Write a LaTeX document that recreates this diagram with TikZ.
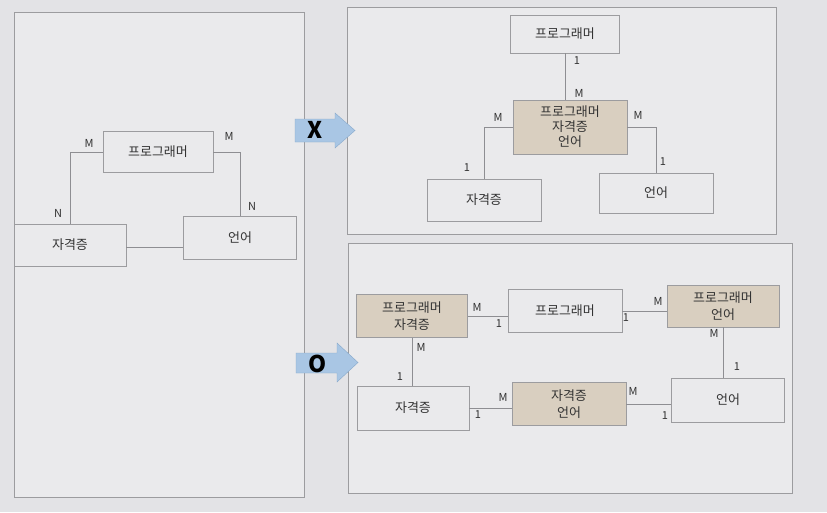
\documentclass[tikz,border=0pt]{standalone}
\usepackage{fontspec}
\setmainfont{Noto Sans CJK KR}

\definecolor{page}{HTML}{E3E3E6}
\definecolor{panel}{HTML}{EAEAEC}
\definecolor{beige}{HTML}{D9CFC0}
\definecolor{frame}{HTML}{9C9C9F}
\definecolor{wire}{HTML}{8E8E92}
\definecolor{arrowfill}{HTML}{A9C6E4}
\definecolor{arrowedge}{HTML}{86A8CB}

\begin{document}
\begin{tikzpicture}[x=1pt,y=-1pt,draw=frame]
    \tikzstyle{entity}=[rectangle,draw=frame,fill=panel,text=black!80,align=center,inner sep=0pt,
        font=\fontsize{13}{16.5}\selectfont]
    \tikzstyle{relation}=[entity,fill=beige]
    \tikzstyle{card}=[font=\fontsize{11}{12}\selectfont,text=black!80,inner sep=0pt]
    \tikzstyle{wire}=[draw=wire,line width=0.8pt]
    \tikzstyle{bigmark}=[font=\fontsize{23}{23}\selectfont\bfseries,text=black,inner sep=0pt]

    % Draw the page and the three panels
    \fill[page] (0,0) rectangle (827,512);
    \useasboundingbox (0,0) rectangle (827,512);
    \draw[fill=panel] (14,12) rectangle (304,497);
    \draw[fill=panel] (347,7) rectangle (776,234);
    \draw[fill=panel] (348,243) rectangle (792,493);

    % Draw the arrows between the panels
    \draw[arrowedge,fill=arrowfill] (295,119) -- (335,119) -- (335,113) -- (355,130.5)
        -- (335,148) -- (335,142) -- (295,142) -- cycle;
    \draw[arrowedge,fill=arrowfill] (296,353) -- (337,353) -- (337,343) -- (358,362.5)
        -- (337,382) -- (337,373) -- (296,373) -- cycle;
    \node[bigmark] (wrong) at (315,130) {X};
    \node[bigmark] (right) at (318,364) {O};

    % Draw the left panel nodes
    \node[entity,minimum width=110pt,minimum height=41pt] (l-prog) at (158,152) {프로그래머};
    \node[entity,minimum width=112pt,minimum height=42pt] (l-cert) at (70,245) {자격증};
    \node[entity,minimum width=113pt,minimum height=43pt] (l-lang) at (240,238) {언어};

    % Draw the top right panel nodes
    \node[entity,minimum width=109pt,minimum height=38pt] (t-prog) at (565,34) {프로그래머};
    \node[relation,minimum width=114pt,minimum height=54pt,
        font=\fontsize{13}{15}\selectfont] (t-all) at (570,127) {프로그래머\\자격증\\언어};
    \node[entity,minimum width=114pt,minimum height=42pt] (t-cert) at (484,200) {자격증};
    \node[entity,minimum width=114pt,minimum height=40pt] (t-lang) at (656,193) {언어};

    % Draw the bottom right panel nodes
    \node[relation,minimum width=111pt,minimum height=43pt] (b-progcert) at (412,316) {프로그래머\\자격증};
    \node[entity,minimum width=114pt,minimum height=43pt] (b-prog) at (565,311) {프로그래머};
    \node[relation,minimum width=112pt,minimum height=42pt] (b-proglang) at (723,306) {프로그래머\\언어};
    \node[entity,minimum width=112pt,minimum height=44pt] (b-cert) at (413,408) {자격증};
    \node[relation,minimum width=114pt,minimum height=43pt] (b-certlang) at (569,404) {자격증\\언어};
    \node[entity,minimum width=113pt,minimum height=44pt] (b-lang) at (728,400) {언어};

    % Connect the nodes of the left panel
    \draw[wire] (l-prog.west) -| (l-cert.north);
    \draw[wire] (l-prog.east) -| (l-lang.north);
    \draw[wire] ([yshift=-2pt]l-cert.east) -- ([yshift=-2pt]l-cert.east -| l-lang.west);

    % Connect the nodes of the top right panel
    \draw[wire] (t-prog.south) -- (t-prog.south |- t-all.north);
    \draw[wire] (t-all.west) -| (t-cert.north);
    \draw[wire] (t-all.east) -| (t-lang.north);

    % Connect the nodes of the bottom right panel
    \foreach \source / \dest in {b-progcert/b-prog, b-prog/b-proglang, b-cert/b-certlang, b-certlang/b-lang}
        \draw[wire] (\source.east) -- (\source.east -| \dest.west);
    \foreach \source / \dest in {b-progcert/b-cert, b-proglang/b-lang}
        \draw[wire] (\source.south) -- (\source.south |- \dest.north);

    % Draw the cardinalities
    \foreach \name / \pos / \txt in {
        1/{(89,143)}/M, 2/{(229,136)}/M, 3/{(58,213)}/N, 4/{(252,206)}/N,
        5/{(577,61)}/1, 6/{(579,93)}/M, 7/{(498,117)}/M, 8/{(467,168)}/1,
        9/{(638,115)}/M, 10/{(663,162)}/1,
        11/{(477,307)}/M, 12/{(499,324)}/1, 13/{(626,318)}/1, 14/{(658,301)}/M,
        15/{(421,347)}/M, 16/{(400,377)}/1, 17/{(714,333)}/M, 18/{(737,367)}/1,
        19/{(503,397)}/M, 20/{(478,415)}/1, 21/{(633,391)}/M, 22/{(665,416)}/1}
        \node[card] (c-\name) at \pos {\txt};

\end{tikzpicture}
\end{document}
